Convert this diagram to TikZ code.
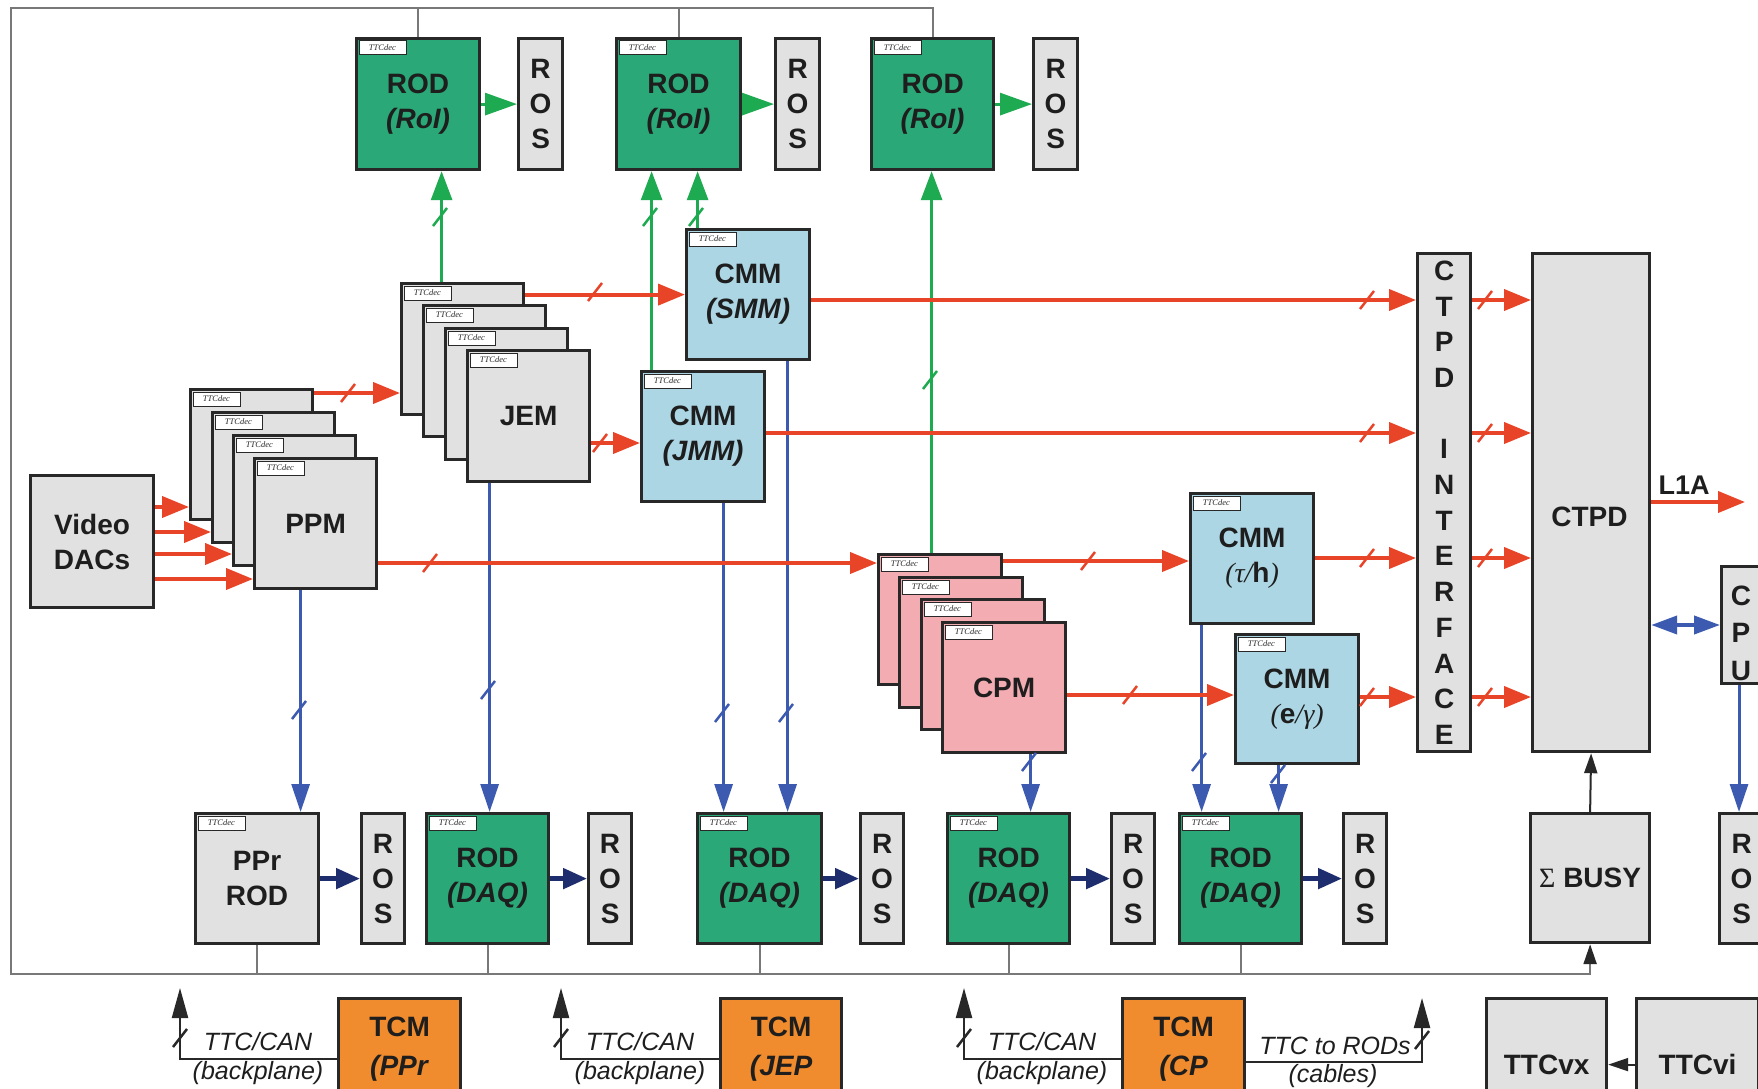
\documentclass[tikz,border=0pt]{standalone}
\usepackage{fontspec}
\setmainfont{Liberation Sans}
\newfontfamily\serif{Liberation Serif}
\usetikzlibrary{arrows.meta}
\definecolor{rodg}{RGB}{42,168,120}
\definecolor{lgray}{RGB}{225,225,225}
\definecolor{cmmb}{RGB}{172,214,228}
\definecolor{cpmp}{RGB}{242,172,178}
\definecolor{tcmo}{RGB}{240,140,45}
\definecolor{redl}{RGB}{232,68,40}
\definecolor{grnl}{RGB}{30,170,80}
\definecolor{blul}{RGB}{60,90,175}
\definecolor{navyl}{RGB}{30,45,110}
\definecolor{bord}{RGB}{40,40,40}
\definecolor{txt}{RGB}{30,30,30}
\definecolor{frmg}{RGB}{120,120,120}
\newcommand\bxnode[7]{\node[#1, minimum width=#5pt, minimum height=#6pt] (#2) at (#3,#4) {#7};}
\newcommand\tk[3]{\draw[#1, line width=2.5pt] (#2,#3) +(-7,9) -- +(7,-9);}
\begin{document}
\begin{tikzpicture}[x=1pt,y=-1pt,
 bx/.style={draw=bord, line width=3.2pt, inner sep=0pt, anchor=north west, align=center,
   font=\bfseries\fontsize{28}{35}\selectfont, text=txt},
 tg/.style={bx, label={[tagst]north west:TTCdec}},
 tagst/.style={anchor=north west, draw=bord, line width=0.8pt, fill=white, inner sep=0pt,
   minimum width=47pt, minimum height=14pt, font=\serif\itshape\fontsize{8.5}{8.5}\selectfont,
   xshift=3.5pt, yshift=-3.5pt, text=bord},
 rarr/.style={draw=redl, line width=4pt, -{Triangle[length=27pt,width=21pt]}},
 garr/.style={draw=grnl, line width=3pt, -{Triangle[length=29pt,width=21pt]}},
 garrb/.style={draw=grnl, line width=3pt, -{Triangle[length=32pt,width=22pt]}},
 barr/.style={draw=blul, line width=3pt, -{Triangle[length=28pt,width=18pt]}},
 bdbl/.style={draw=blul, line width=4pt, {Triangle[length=26pt,width=18pt]}-{Triangle[length=26pt,width=18pt]}},
 narr/.style={draw=navyl, line width=5pt, -{Triangle[length=24pt,width=20pt]}},
 karr/.style={draw=bord, line width=2pt, -{Triangle[length=20pt,width=13pt]}},
 kttc/.style={draw=bord, line width=2.2pt, -{Triangle[length=30pt,width=16pt]}},
 frm/.style={draw=frmg, line width=2.2pt},
 ttl/.style={font=\itshape\fontsize{25}{25}\selectfont, text=txt, inner sep=0pt},
 plain/.style={font=\bfseries\fontsize{28}{35}\selectfont, text=txt, inner sep=0pt, align=center}
]
\useasboundingbox (0,0) rectangle (1758,1089);
\fill[white] (0,0) rectangle (1758,1089);
\clip (0,0) rectangle (1758,1089);

% ---- top row RODs (RoI) ----
\bxnode{tg, fill=rodg}{rod1}{355}{37}{123}{131}{ROD\\\textit{(RoI)}}
\bxnode{bx, fill=lgray}{ros1}{517}{37}{44}{131}{R\\O\\S}
\bxnode{tg, fill=rodg}{rod2}{615}{37}{124}{131}{ROD\\\textit{(RoI)}}
\bxnode{bx, fill=lgray}{ros2}{774}{37}{44}{131}{R\\O\\S}
\bxnode{tg, fill=rodg}{rod3}{870}{37}{122}{131}{ROD\\\textit{(RoI)}}
\bxnode{bx, fill=lgray}{ros3}{1032}{37}{44}{131}{R\\O\\S}

% ---- JEM stack ----
\bxnode{tg, fill=lgray}{j1}{400}{282}{122}{131}{}
\bxnode{tg, fill=lgray}{j2}{422}{304}{122}{131}{}
\bxnode{tg, fill=lgray}{j3}{444}{327}{122}{131}{}
\bxnode{tg, fill=lgray}{j4}{466}{349}{122}{131}{JEM}

% ---- CMMs ----
\bxnode{tg, fill=cmmb}{smm}{685}{228}{123}{130}{CMM\\\textit{(SMM)}}
\bxnode{tg, fill=cmmb}{jmm}{640}{370}{123}{130}{CMM\\\textit{(JMM)}}
\bxnode{tg, fill=cmmb}{tauh}{1189}{492}{123}{130}{CMM\\{\serif\itshape\mdseries(τ/}h{\serif\itshape\mdseries)}}
\bxnode{tg, fill=cmmb}{egam}{1234}{633}{123}{129}{CMM\\{\serif\itshape\mdseries(}e{\serif\itshape\mdseries/γ)}}

% ---- Video DACs and PPM stack ----
\bxnode{bx, fill=lgray}{dac}{29}{474}{123}{132}{Video\\DACs}
\bxnode{tg, fill=lgray}{p1}{189}{388}{122}{130}{}
\bxnode{tg, fill=lgray}{p2}{211}{411}{122}{130}{}
\bxnode{tg, fill=lgray}{p3}{232}{434}{122}{130}{}
\bxnode{tg, fill=lgray}{p4}{253}{457}{122}{130}{PPM}

% ---- CPM stack ----
\bxnode{tg, fill=cpmp}{c1}{877}{553}{123}{130}{}
\bxnode{tg, fill=cpmp}{c2}{898}{576}{123}{130}{}
\bxnode{tg, fill=cpmp}{c3}{920}{598}{123}{130}{}
\bxnode{tg, fill=cpmp}{c4}{941}{621}{123}{130}{CPM}

% ---- CTPD side ----
\bxnode{bx, fill=lgray, font=\bfseries\fontsize{28}{35.7}\selectfont}{iface}{1416}{252}{53}{498}{C\\T\\P\\D\\[35.7pt]I\\N\\T\\E\\R\\F\\A\\C\\E}
\bxnode{bx, fill=lgray}{ctpd}{1531}{252}{117}{498}{}
\node[plain] (ctpdtxt) at (1589.5,517) {CTPD};
\bxnode{bx, fill=lgray}{cpu}{1720}{565}{44}{117}{}
\node[plain, font=\bfseries\fontsize{28}{37.5}\selectfont] (cputxt) at (1741,633) {C\\P\\U};
\node[plain, font=\bfseries\fontsize{27}{27}\selectfont] (l1a) at (1684,485) {L1A};
\bxnode{bx, fill=lgray}{busy}{1529}{812}{119}{129}{{\serif\mdseries Σ} BUSY}

% ---- bottom row ----
\bxnode{tg, fill=lgray}{pprrod}{194}{812}{123}{130}{PPr\\ROD}
\bxnode{bx, fill=lgray}{ros4}{360}{812}{43}{130}{R\\O\\S}
\bxnode{tg, fill=rodg}{daq1}{425}{812}{122}{130}{ROD\\\textit{(DAQ)}}
\bxnode{bx, fill=lgray}{ros5}{587}{812}{43}{130}{R\\O\\S}
\bxnode{tg, fill=rodg}{daq2}{696}{812}{124}{130}{ROD\\\textit{(DAQ)}}
\bxnode{bx, fill=lgray}{ros6}{859}{812}{43}{130}{R\\O\\S}
\bxnode{tg, fill=rodg}{daq3}{946}{812}{122}{130}{ROD\\\textit{(DAQ)}}
\bxnode{bx, fill=lgray}{ros7}{1110}{812}{43}{130}{R\\O\\S}
\bxnode{tg, fill=rodg}{daq4}{1178}{812}{122}{130}{ROD\\\textit{(DAQ)}}
\bxnode{bx, fill=lgray}{ros8}{1342}{812}{43}{130}{R\\O\\S}
\bxnode{bx, fill=lgray}{ros9}{1718}{812}{44}{130}{R\\O\\S}

% ---- TCMs and TTC ----
\bxnode{bx, fill=tcmo, font=\bfseries\fontsize{28}{39}\selectfont}{tcm1}{337}{997}{122}{101}{TCM\\\textit{(PPr}}
\bxnode{bx, fill=tcmo, font=\bfseries\fontsize{28}{39}\selectfont}{tcm2}{719}{997}{121}{101}{TCM\\\textit{(JEP}}
\bxnode{bx, fill=tcmo, font=\bfseries\fontsize{28}{39}\selectfont}{tcm3}{1121}{997}{122}{101}{TCM\\\textit{(CP}}
\bxnode{bx, fill=lgray}{ttcvx}{1485}{997}{120}{132}{TTCvx}
\bxnode{bx, fill=lgray}{ttcvi}{1635}{997}{122}{132}{TTCvi}

% ---- frame (gray) ----
\coordinate (ftl) at (11,8);
\coordinate (fbl) at (11,974);
\draw[frm, -{Triangle[length=20pt,width=13pt,color=bord]}] (rod3.north) |- (ftl) -- (fbl) -| (busy.south);
\draw[frm] (rod1.north) -- (rod1.north |- ftl);
\draw[frm] (rod2.north) -- (rod2.north |- ftl);
\foreach \n in {pprrod,daq1,daq2,daq3,daq4}{\draw[frm] (\n.south) -- (\n.south |- fbl);}
\draw[karr] (busy.north) -- (ctpd.south);
\draw[karr] (ttcvi.west) -- (ttcvx.east);

% ---- green ----
\draw[garr] ([xshift=-21pt]j1.north) -- ([xshift=-21pt]j1.north |- rod1.south);
\draw[garr] ([xshift=-51.5pt]jmm.north) -- ([xshift=-51.5pt]jmm.north |- rod2.south);
\draw[garr] ([xshift=-50.5pt]smm.north) -- ([xshift=-50.5pt]smm.north |- rod2.south);
\draw[garr] ([xshift=-8.5pt]c1.north) -- ([xshift=-8.5pt]c1.north |- rod3.south);
\tk{grnl}{440}{217}\tk{grnl}{650}{217}\tk{grnl}{696}{217}\tk{grnl}{930}{380}
\draw[garrb] (rod1.east) -- (ros1.west);
\draw[garrb] (rod2.east) -- (ros2.west);
\draw[garrb] (rod3.east) -- (ros3.west);

% ---- blue ----
\draw[barr] ([xshift=-15pt]p4.south) -- ([xshift=-15pt]p4.south |- pprrod.north);
\draw[barr] ([xshift=-39pt]j4.south) -- ([xshift=-39pt]j4.south |- daq1.north);
\draw[barr] ([xshift=20.5pt]jmm.south) -- ([xshift=20.5pt]jmm.south |- daq2.north);
\draw[barr] ([xshift=39.5pt]smm.south) -- ([xshift=39.5pt]smm.south |- daq2.north);
\draw[barr] ([xshift=26.5pt]c4.south) -- ([xshift=26.5pt]c4.south |- daq3.north);
\draw[barr] ([xshift=-50.5pt]tauh.south) -- ([xshift=-50.5pt]tauh.south |- daq4.north);
\draw[barr] ([xshift=-18.5pt]egam.south) -- ([xshift=-18.5pt]egam.south |- daq4.north);
\draw[barr] ([xshift=19pt]cpu.south west) -- ([xshift=19pt]cpu.south west |- ros9.north);
\tk{blul}{299}{710}\tk{blul}{488}{690}\tk{blul}{722}{713}\tk{blul}{786}{713}
\tk{blul}{1029}{762}\tk{blul}{1199}{762}\tk{blul}{1278}{774}
\draw[bdbl] (ctpd.east |- 0,625) -- (cpu.west |- 0,625);
\draw[narr] (pprrod.east) -- (ros4.west);
\draw[narr] (daq1.east) -- (ros5.west);
\draw[narr] (daq2.east) -- (ros6.west);
\draw[narr] (daq3.east) -- (ros7.west);
\draw[narr] (daq4.east) -- (ros8.west);

% ---- red ----
\draw[rarr] (dac.east |- 0,507) -- (p1.west |- 0,507);
\draw[rarr] (dac.east |- 0,532) -- (p2.west |- 0,532);
\draw[rarr] (dac.east |- 0,554) -- (p3.west |- 0,554);
\draw[rarr] (dac.east |- 0,579) -- (p4.west |- 0,579);
\draw[rarr] (p1.east |- 0,393) -- (j1.west |- 0,393);
\draw[rarr] (j1.east |- smm.west) -- (smm.west);
\draw[rarr] (j4.east |- 0,443) -- (jmm.west |- 0,443);
\draw[rarr] (smm.east |- 0,300) -- (iface.west |- 0,300);
\draw[rarr] (jmm.east |- 0,433) -- (iface.west |- 0,433);
\draw[rarr] (p4.east |- 0,563) -- (c1.west |- 0,563);
\draw[rarr] (c1.east |- 0,561) -- (tauh.west |- 0,561);
\draw[rarr] (tauh.east |- 0,558) -- (iface.west |- 0,558);
\draw[rarr] (c4.east |- 0,695) -- (egam.west |- 0,695);
\draw[rarr] (egam.east |- 0,697) -- (iface.west |- 0,697);
\foreach \yy in {300,433,558,697}{\draw[rarr] (iface.east |- 0,\yy) -- (ctpd.west |- 0,\yy);}
\coordinate (l1aend) at (1745,502);
\draw[rarr] (ctpd.east |- l1aend) -- (l1aend);
\tk{redl}{348}{393}\tk{redl}{595}{292}\tk{redl}{600}{443}\tk{redl}{430}{563}
\tk{redl}{1088}{561}\tk{redl}{1130}{695}
\foreach \yy in {300,433,558,697}{\tk{redl}{1367}{\yy}\tk{redl}{1485}{\yy}}

% ---- TTC/CAN ----
\coordinate (tt1) at (180,988);
\coordinate (tt2) at (561,988);
\coordinate (tt3) at (964,988);
\coordinate (tt4) at (1422,998);
\draw[kttc] ([yshift=-9.5pt]tcm1.west) -| (tt1);
\draw[kttc] ([yshift=-9.5pt]tcm2.west) -| (tt2);
\draw[kttc] ([yshift=-9.5pt]tcm3.west) -| (tt3);
\draw[kttc] ([yshift=-12.5pt]tcm3.east) -| (tt4);
\tk{bord}{180}{1038}\tk{bord}{561}{1038}\tk{bord}{964}{1038}\tk{bord}{1422}{1040}
\node[ttl] (cana) at (258,1042) {TTC/CAN};
\node[ttl] (bpa) at (258,1073) {(backplane)};
\node[ttl] (canb) at (640,1042) {TTC/CAN};
\node[ttl] (bpb) at (640,1073) {(backplane)};
\node[ttl] (canc) at (1042,1042) {TTC/CAN};
\node[ttl] (bpc) at (1042,1073) {(backplane)};
\node[ttl] (rods) at (1335,1046) {TTC to RODs};
\node[ttl] (cab) at (1333,1076) {(cables)};
\end{tikzpicture}
\end{document}
